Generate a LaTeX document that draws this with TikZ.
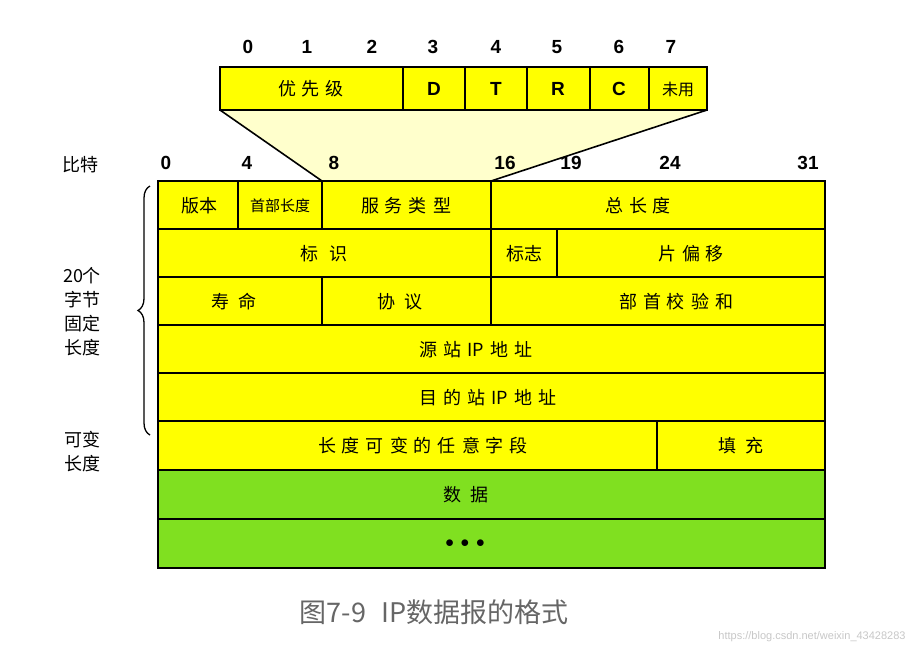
\documentclass[tikz,border=0pt]{standalone}
\usepackage{fontspec}
\setmainfont{Liberation Sans}
\newfontfamily\cjk{Noto Sans CJK SC}
\usetikzlibrary{decorations.pathreplacing}
\definecolor{yel}{HTML}{FFFF00}
\definecolor{grn}{HTML}{80E020}
\definecolor{fan}{HTML}{FFFFCC}
\begin{document}
\begin{tikzpicture}[x=1pt,y=-1pt,
  cell/.style={draw=black,line width=1.6pt},
  txt/.style={font=\cjk\fontsize{18}{20}\selectfont},
  num/.style={font=\bfseries\fontsize{19}{21}\selectfont},
  side/.style={font=\cjk\fontsize{18}{24}\selectfont,align=center}]
\useasboundingbox (0,0) rectangle (918,657);
% fan
\fill[fan] (220,110) -- (707,110) -- (491,181) -- (322,181) -- cycle;
\draw[line width=1.6pt] (220,110) -- (322,181) (707,110) -- (491,181);
% top box
\filldraw[fill=yel,cell] (220,67) rectangle (707,110);
\foreach \x in {403,465,527,590,649} \draw[cell] (\x,67) -- (\x,110);
\node[txt] (p) at (311,89) {优\,\,先\,\,级};
\node[num] (d) at (434,89) {D};
\node[num] (t) at (496,89) {T};
\node[num] (r) at (558,89) {R};
\node[num] (c) at (619,89) {C};
\node[font=\cjk\fontsize{16}{18}\selectfont] (u) at (678,89) {未用};
\foreach \n/\x in {0/248,1/307,2/372,3/433,4/496,5/557,6/619,7/671}
  \node[num] (tb\n) at (\x,47) {\n};
% bit labels
\foreach \n/\x in {0/166,4/247,8/334,16/505,19/571,24/670,31/808}
  \node[num] (b\n) at (\x,163) {\n};
\node[txt] (bt) at (80,165) {比特};
% main table
\fill[yel] (158,181) rectangle (825,470);
\fill[grn] (158,470) rectangle (825,568);
\draw[cell] (158,181) rectangle (825,568);
\foreach \y in {229,277,325,373,421,470,519} \draw[cell] (158,\y) -- (825,\y);
\draw[cell] (238,181) -- (238,229) (322,181) -- (322,229) (491,181) -- (491,277)
  (557,229) -- (557,277) (322,277) -- (322,325) (491,277) -- (491,325) (657,421) -- (657,470);
\node[txt] (v) at (199,206) {版本};
\node[font=\cjk\fontsize{15}{17}\selectfont,inner sep=0pt] (hl) at (280,206) {首部长度};
\node[txt] (tos) at (406,206) {服\,\,务\,\,类\,\,型};
\node[txt] (tl) at (638,206) {总\,\,长\,\,度};
\node[txt] (id) at (324,254) {标\,\,\,\,识};
\node[txt] (fl) at (524,254) {标志};
\node[txt] (fo) at (691,254) {片\,\,偏\,\,移};
\node[txt] (ttl) at (234,302) {寿\,\,\,命};
\node[txt] (pr) at (400,302) {协\,\,\,议};
\node[txt] (ck) at (676,302) {部\,\,首\,\,校\,\,验\,\,和};
\node[txt] (src) at (476,350) {源\,\,站\,\,IP\,\,地\,\,址};
\node[txt] (dst) at (488,398) {目\,\,的\,\,站\,\,IP\,\,地\,\,址};
\node[txt] (opt) at (423,446) {长\,\,度\,\,可\,\,变\,\,的\,\,任\,\,意\,\,字\,\,段};
\node[txt] (pad) at (741,446) {填\,\,\,充};
\node[txt] (dat) at (466,495) {数\,\,\,据};
\node[font=\fontsize{19}{21}\selectfont] (dots) at (465,544) {$\bullet\,\bullet\,\bullet$};
% brace
\draw[line width=1.3pt,decorate,decoration={brace,amplitude=12pt}] (150,435) -- (150,186);
\node[side] (fx) at (82,312) {20个\\字节\\固定\\长度};
\node[side] (vr) at (82,452) {可变\\长度};
% caption
\node[font=\cjk\fontsize{27}{29}\selectfont,text=black!60] (cap) at (434,612) {图7-9\,\, IP数据报的格式};
\node[font=\fontsize{11}{13}\selectfont,text=black!22] (wm) at (812,637) {https://blog.csdn.net/weixin\_43428283};
\end{tikzpicture}
\end{document}
